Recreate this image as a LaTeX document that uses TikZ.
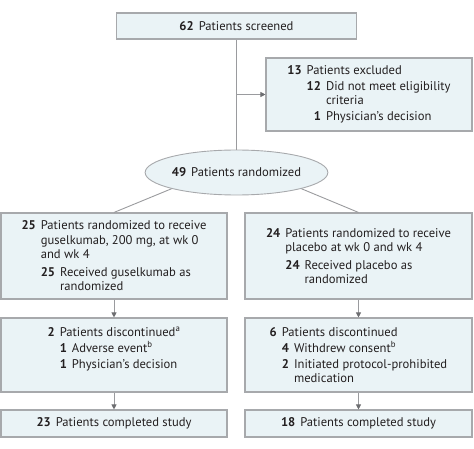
\documentclass[tikz,border=0pt]{standalone}
\usepackage{fontspec}
\setmainfont{PT Sans}
\usetikzlibrary{positioning, arrows.meta, shapes.geometric}
\definecolor{boxfill}{HTML}{EAF3F6}
\definecolor{boxline}{HTML}{A7A9AC}
\definecolor{flowline}{HTML}{9A9B9E}
\definecolor{tipgray}{HTML}{6D6E71}
\definecolor{ink}{HTML}{231F20}
\newcommand{\nr}[1]{\textbf{#1}\hspace{5pt}}
\newcommand{\ind}[1]{\hphantom{\nr{#1}}}

\begin{document}
\begin{tikzpicture}[x=1pt, y=-1pt,
    font=\fontsize{12.6}{14.5}\selectfont, text=ink,
    box/.style={draw=boxline, fill=boxfill, line width=1.1pt, align=left,
      inner sep=0pt},
    oval/.style={ellipse, draw=boxline, fill=boxfill, line width=0.9pt,
      inner sep=0pt, minimum width=159pt, minimum height=45pt},
    link/.style={draw=flowline, line width=0.9pt},
    arr/.style={link, -{Triangle[length=5pt, width=5pt, color=tipgray]}}
  ]
    \useasboundingbox (0,0) rectangle (474,449);
    \node[box, minimum width=240pt, minimum height=26pt] (screen) at (236.5,26)
      {\nr{62}Patients screened};
    \node[box, minimum width=206pt, minimum height=73pt] (excl) at (369,94.5)
      {\nr{13}Patients excluded\\[1.5pt]
       \ind{13}\nr{12}Did not meet eligibility\\
       \ind{13}\ind{12}criteria\\[1.5pt]
       \ind{13}\hphantom{\textbf{1}}\nr{1}Physician’s decision};
    \node[oval] (rand) at (236.5,172.5) {\nr{49}Patients randomized};
    % treatment arms
    \node[box, minimum width=226pt, minimum height=86pt] (gusarm) at (114,256)
      {\nr{25}Patients randomized to receive\\
       \ind{25}guselkumab, 200 mg, at wk 0\\
       \ind{25}and wk 4\\[3pt]
       \ind{25}\nr{25}Received guselkumab as\\
       \ind{25}\ind{25}randomized};
    \node[box, minimum width=227pt, minimum height=86pt] (plaarm) at (358.5,256)
      {\nr{24}Patients randomized to receive\\
       \ind{24}placebo at wk 0 and wk 4\\[3pt]
       \ind{24}\nr{24}Received placebo as\\
       \ind{24}\ind{24}randomized};
    \node[box, minimum width=226pt, minimum height=74pt] (gusdisc) at (114,355)
      {\nr{2}Patients discontinued\textsuperscript{a}\\[1.5pt]
       \ind{2}\nr{1}Adverse event\textsuperscript{b}\\[1.5pt]
       \ind{2}\nr{1}Physician’s decision\\
       \mbox{}};
    \node[box, minimum width=227pt, minimum height=74pt] (pladisc) at (358.5,355)
      {\nr{6}Patients discontinued\\[1.5pt]
       \ind{6}\nr{4}Withdrew consent\textsuperscript{b}\\[1.5pt]
       \ind{6}\nr{2}Initiated protocol-prohibited\\
       \ind{6}\ind{2}medication};
    \node[box, minimum width=226pt, minimum height=27pt] (guscomp) at (114,423.5)
      {\nr{23}Patients completed study};
    \node[box, minimum width=227pt, minimum height=27pt] (placomp) at (358.5,423.5)
      {\nr{18}Patients completed study};
    % connectors
    \draw[link] (screen.south) -- (rand.north);
    \draw[arr] (screen.south |- excl.west) -- (excl.west);
    \draw[link] (rand.south west) -- (gusarm.north);
    \draw[link] (rand.south east) -- (plaarm.north);
    \draw[arr] (gusarm.south) -- (gusdisc.north);
    \draw[arr] (plaarm.south) -- (pladisc.north);
    \draw[arr] (gusdisc.south) -- (guscomp.north);
    \draw[arr] (pladisc.south) -- (placomp.north);
  \end{tikzpicture}
\end{document}
